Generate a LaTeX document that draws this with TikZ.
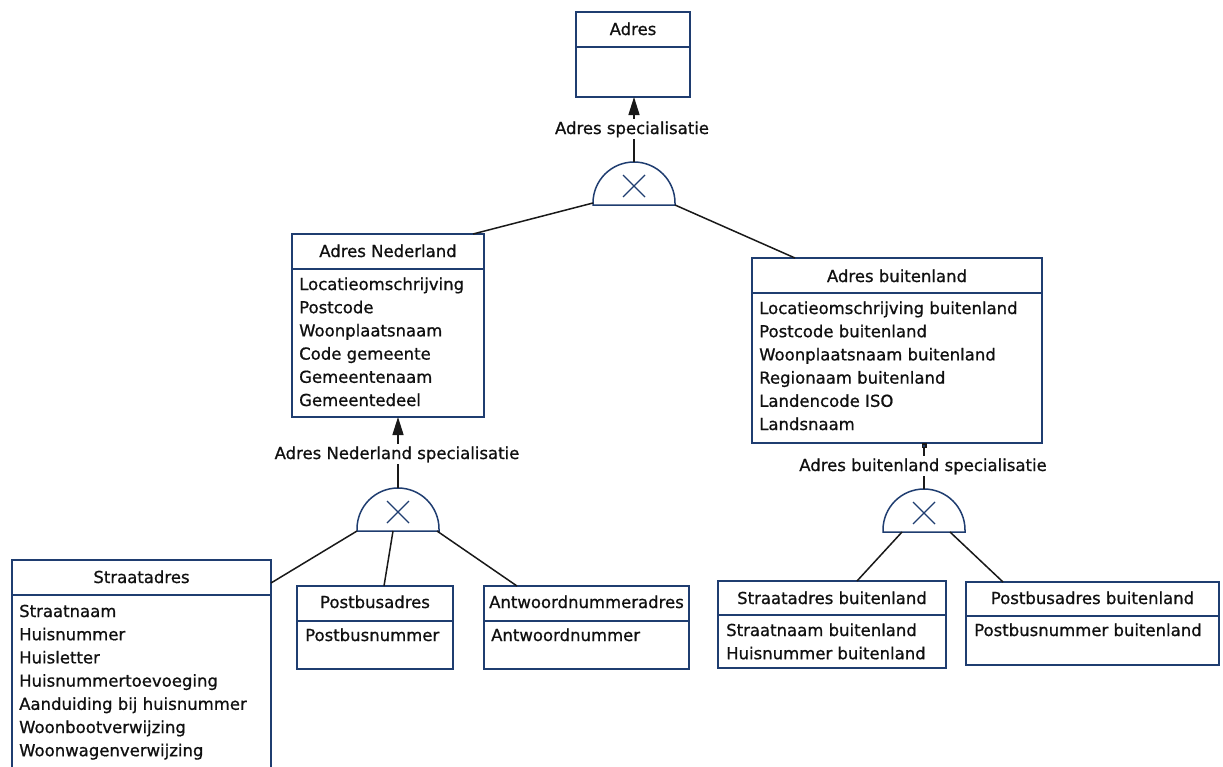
\documentclass[tikz,border=0pt]{standalone}
\usepackage{fontspec}
\setmainfont{DejaVu Sans}
\newfontfamily\umlfont{DejaVu Sans}[UprightFeatures={FakeBold=0.8}]
\usetikzlibrary{calc,arrows.meta}
\definecolor{boxblue}{HTML}{1F3D70}
\definecolor{txt}{HTML}{101010}
\newcommand\attrlist[4]{%
  \foreach \t [count=\i from 0] in {#4} {
    \node[attr] (#1-a\i) at (#2, #3+23.2*\i) {\t};
  }%
}
\newcommand\xspec[3]{%
  \coordinate (#1) at (#2,#3);
  \coordinate (#1-t) at (#2,#3-43);
  \draw[spec] ($(#1)+(-41,0)$) -- ++(0,-2) arc[start angle=180,end angle=360,radius=41] -- ++(0,2) -- cycle;
  \draw[specx] ($(#1)+(-11,-30)$) -- ($(#1)+(11,-8)$);
  \draw[specx] ($(#1)+(-11,-8)$) -- ($(#1)+(11,-30)$);
}
\begin{document}
\begin{tikzpicture}[x=1pt,y=-1pt,
  box/.style={draw=boxblue,line width=1.7pt,fill=white,inner sep=0pt,outer sep=0pt,anchor=north west},
  divline/.style={draw=boxblue,line width=1.7pt},
  hdr/.style={font=\umlfont\fontsize{16.5}{20}\selectfont,text=txt,anchor=base,inner sep=0pt},
  attr/.style={font=\umlfont\fontsize{16.5}{20}\selectfont,text=txt,anchor=base west,inner sep=0pt},
  conn/.style={draw=black!90,line width=1.5pt},
  spec/.style={draw=boxblue,line width=1.5pt,fill=white},
  specx/.style={draw=boxblue,line width=1.3pt},
  lbl/.style={font=\umlfont\fontsize{16.5}{20}\selectfont,text=txt,anchor=base,fill=white,inner sep=2pt}
]
\useasboundingbox (0,0) rectangle (1223,766);
\clip (0,0) rectangle (1223,766);
\fill[white] (0,0) rectangle (1223,766);

% ---- specialisation symbols ----
\xspec{S1}{634}{205}
\xspec{S2}{398}{531}
\xspec{S3}{924}{532}

% ---- boxes ----
\node[box,minimum width=114pt,minimum height=85pt] (adres) at (576,12) {};
\draw[divline] (adres.west |- 0,47) -- (adres.east |- 0,47);
\node[hdr] (adres-h) at (633,35) {Adres};

\node[box,minimum width=192pt,minimum height=183pt] (an) at (292,234) {};
\draw[divline] (an.west |- 0,269) -- (an.east |- 0,269);
\node[hdr] (an-h) at (388,257) {Adres Nederland};
\attrlist{an}{299}{290}{Locatieomschrijving,Postcode,Woonplaatsnaam,Code gemeente,Gemeentenaam,Gemeentedeel}

\node[box,minimum width=290pt,minimum height=185pt] (ab) at (752,258) {};
\draw[divline] (ab.west |- 0,293) -- (ab.east |- 0,293);
\node[hdr] (ab-h) at (897,282) {Adres buitenland};
\attrlist{ab}{759}{314}{Locatieomschrijving buitenland,Postcode buitenland,Woonplaatsnaam buitenland,Regionaam buitenland,Landencode ISO,Landsnaam}

\node[box,minimum width=259pt,minimum height=240pt] (sa) at (12,560) {};
\draw[divline] (sa.west |- 0,595) -- (sa.east |- 0,595);
\node[hdr] (sa-h) at (141.5,583) {Straatadres};
\attrlist{sa}{19}{617}{Straatnaam,Huisnummer,Huisletter,Huisnummertoevoeging,Aanduiding bij huisnummer,Woonbootverwijzing,Woonwagenverwijzing}

\node[box,minimum width=156pt,minimum height=83pt] (pb) at (297,586) {};
\draw[divline] (pb.west |- 0,621) -- (pb.east |- 0,621);
\node[hdr] (pb-h) at (375,608) {Postbusadres};
\attrlist{pb}{305}{641}{Postbusnummer}

\node[box,minimum width=205pt,minimum height=83pt] (aw) at (484,586) {};
\draw[divline] (aw.west |- 0,621) -- (aw.east |- 0,621);
\node[hdr] (aw-h) at (586.5,608) {Antwoordnummeradres};
\attrlist{aw}{491}{641}{Antwoordnummer}

\node[box,minimum width=228pt,minimum height=87pt] (sab) at (718,581) {};
\draw[divline] (sab.west |- 0,615) -- (sab.east |- 0,615);
\node[hdr] (sab-h) at (832,604) {Straatadres buitenland};
\attrlist{sab}{726}{636}{Straatnaam buitenland,Huisnummer buitenland}

\node[box,minimum width=253pt,minimum height=83pt] (pbb) at (966,582) {};
\draw[divline] (pbb.west |- 0,616) -- (pbb.east |- 0,616);
\node[hdr] (pbb-h) at (1092.5,604) {Postbusadres buitenland};
\attrlist{pbb}{974}{636}{Postbusnummer buitenland}

% ---- generalisation arrows ----
\draw[conn,-{Triangle[length=18pt,width=11pt]}] (S1-t) -- (S1-t |- adres.south);
\node[lbl] (l1) at (632,134) {Adres specialisatie};

\draw[conn,-{Triangle[length=18pt,width=11pt]}] (S2-t) -- (S2-t |- an.south);
\node[lbl] (l2) at (397,459) {Adres Nederland specialisatie};

\draw[conn,-{Square[length=5pt,width=5pt,fill=boxblue]}] (S3-t) -- (S3-t |- ab.south);
\node[lbl] (l3) at (923,471) {Adres buitenland specialisatie};

% ---- specialisation links ----
\draw[conn] ($(S1)+(-41,-2)$) -- ($(an.north west)+(181,0)$);
\draw[conn] ($(S1)+(41,0)$) -- ($(ab.north west)+(43,0)$);

\draw[conn] ($(S2)+(-41,0)$) -- ($(sa.north east)+(0,23)$);
\draw[conn] ($(S2)+(-5,0)$) -- ($(pb.north west)+(87,0)$);
\draw[conn] ($(S2)+(39,0)$) -- ($(aw.north west)+(33,0)$);

\draw[conn] ($(S3)+(-22,0)$) -- ($(sab.north west)+(139,0)$);
\draw[conn] ($(S3)+(26,0)$) -- ($(pbb.north west)+(37,0)$);
\end{tikzpicture}
\end{document}
